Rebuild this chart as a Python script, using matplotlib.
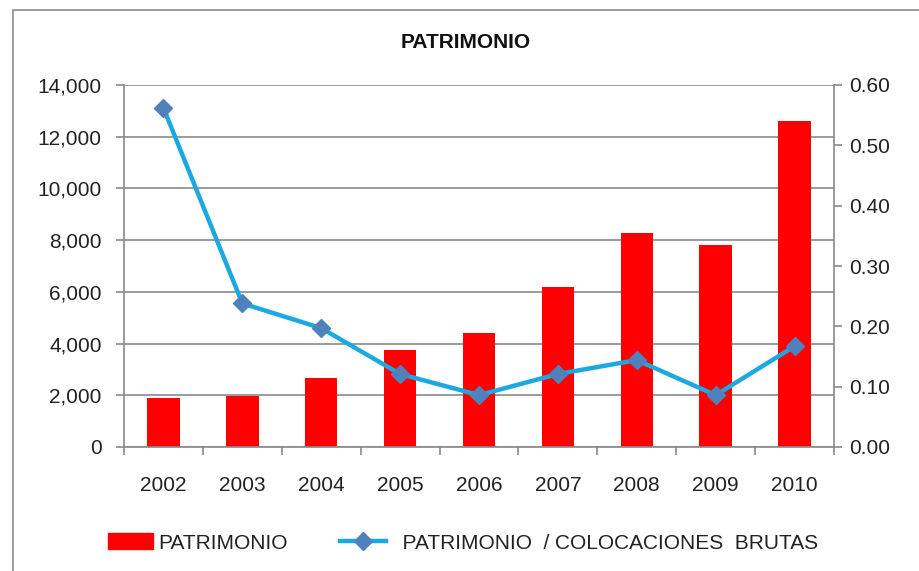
import numpy as np
import matplotlib.pyplot as plt
import matplotlib.patches as mpatches
from matplotlib.lines import Line2D
from matplotlib.ticker import FuncFormatter

plt.rcParams['font.family'] = ['Liberation Sans', 'DejaVu Sans']

years = ['2002', '2003', '2004', '2005', '2006', '2007', '2008', '2009', '2010']
patrimonio = [1900, 1970, 2670, 3750, 4400, 6180, 8270, 7800, 12620]
ratio = [0.562, 0.238, 0.197, 0.121, 0.086, 0.121, 0.144, 0.086, 0.167]

fig = plt.figure(figsize=(9.2, 5.71), dpi=100)
# chart border
fig.patches.append(mpatches.Rectangle((13/920, -0.01), 1.0, 1 - 10/571 + 0.01,
                                      transform=fig.transFigure, fill=False,
                                      edgecolor='#8c8c8c', linewidth=1.2))

ax = fig.add_axes([124/920, 1 - 447/571, 710/920, 362/571])
x = np.arange(len(years))
ax.bar(x, patrimonio, width=0.41, color='#ff0000', zorder=2)
ax.set_xlim(-0.5, len(years) - 0.5)
ax.set_ylim(0, 14000)
ax.set_yticks(np.arange(0, 14001, 2000))
ax.yaxis.set_major_formatter(FuncFormatter(lambda v, p: '{:,.0f}'.format(v)))
ax.yaxis.grid(True, color='#8a8a8a', linewidth=1.2, zorder=0)
ax.set_axisbelow(True)
ax.set_xticks(x)
ax.set_xticklabels(years)
ax.set_xticks(np.arange(-0.5, len(years), 1), minor=True)
ax.tick_params(axis='x', which='major', length=0, pad=21, labelsize=15, colors='#222222')
ax.tick_params(axis='x', which='minor', length=6, width=1.2, color='#8a8a8a')
ax.tick_params(axis='y', length=6, width=1.2, color='#8a8a8a', labelsize=15,
               labelcolor='#222222', pad=10)
for s in ['top', 'right']:
    ax.spines[s].set_visible(False)
for s in ['left', 'bottom']:
    ax.spines[s].set_color('#8a8a8a')
    ax.spines[s].set_linewidth(1.2)

ax2 = ax.twinx()
ax2.plot(x, ratio, color='#1ca8e0', linewidth=3.2, marker='D', markersize=9,
         markerfacecolor='#4f81bd', markeredgecolor='#4f81bd', zorder=3)
ax2.set_ylim(0, 0.6)
ax2.set_yticks(np.arange(0, 0.61, 0.1))
ax2.yaxis.set_major_formatter(FuncFormatter(lambda v, p: '{:.2f}'.format(v)))
ax2.tick_params(axis='y', length=6, width=1.2, color='#8a8a8a', labelsize=15,
                labelcolor='#222222', pad=5)
for s in ['top', 'left', 'bottom']:
    ax2.spines[s].set_visible(False)
ax2.spines['right'].set_color('#8a8a8a')
ax2.spines['right'].set_linewidth(1.2)

fig.text(466/920, 1 - 42/571, 'PATRIMONIO', ha='center', va='center',
         fontsize=15, fontweight='bold', color='#111111')

handles = [mpatches.Patch(color='#ff0000', label='PATRIMONIO'),
           Line2D([], [], color='#1ca8e0', linewidth=3.2, marker='D', markersize=9,
                  markerfacecolor='#4f81bd', markeredgecolor='#4f81bd',
                  label='  PATRIMONIO  / COLOCACIONES  BRUTAS')]
fig.legend(handles=handles, loc='center', bbox_to_anchor=(463/920, 1 - 543/571),
           ncol=2, frameon=False, fontsize=15, handlelength=2.2, handleheight=0.8,
           handletextpad=0.25, columnspacing=2.5, labelcolor='#222222')

fig.savefig('out.png', dpi=100)
